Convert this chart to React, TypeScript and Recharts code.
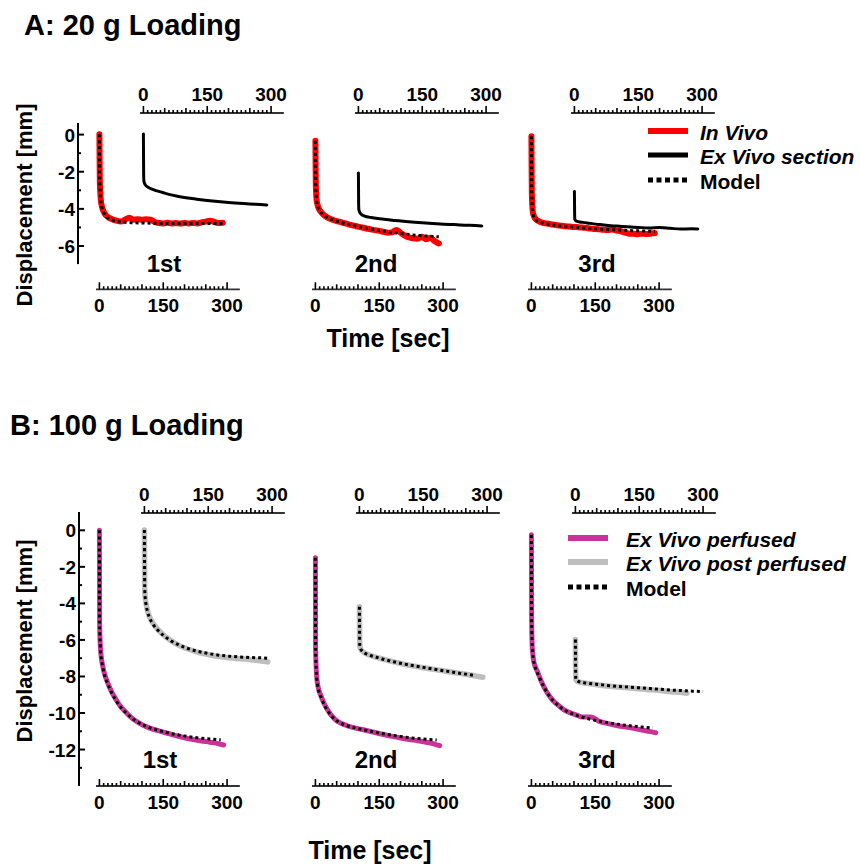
import React from 'react';
import { LineChart, Line, XAxis, YAxis } from 'recharts';

const FONT = "'Liberation Sans', Arial, Helvetica, sans-serif";

// ---------- DATA ----------
const X_TICKS = [0, 10, 20, 30, 40, 50, 60, 70, 80, 90, 100, 110, 120, 130, 140, 150, 160, 170, 180, 190, 200, 210, 220, 230, 240, 250, 260, 270, 280, 290, 300];
const X_LABELS = [0, 150, 300];
const Y_TICKS_A = [-6, -5, -4, -3, -2, -1, 0];
const Y_TICKS_B = [-13, -12, -11, -10, -9, -8, -7, -6, -5, -4, -3, -2, -1, 0];
const LOADINGS = ['1st', '2nd', '3rd'];

// Panel A (20 g) – in vivo, time on bottom axis
const T_VIVO = [0, 0.5, 1, 2, 3, 5, 8, 12, 17, 23, 30, 40, 50, 60, 70, 80, 90, 100, 110, 120, 130, 140, 150, 160, 170, 180, 190, 200, 210, 220, 230, 240, 250, 260, 270, 280, 290];
const A1_INVIVO = [0, -1.4, -2.5, -3.1, -3.45, -3.8, -4.05, -4.25, -4.4, -4.5, -4.58, -4.65, -4.7, -4.6, -4.5, -4.6, -4.57, -4.6, -4.57, -4.6, -4.72, -4.78, -4.8, -4.76, -4.8, -4.78, -4.81, -4.77, -4.8, -4.77, -4.8, -4.74, -4.7, -4.65, -4.72, -4.78, -4.76];
const A2_INVIVO = [-0.35, -1.6, -2.7, -3.3, -3.55, -3.8, -4.0, -4.15, -4.28, -4.4, -4.5, -4.6, -4.67, -4.73, -4.8, -4.86, -4.92, -4.97, -5.02, -5.07, -5.12, -5.16, -5.2, -5.25, -5.3, -5.28, -5.15, -5.3, -5.45, -5.55, -5.6, -5.62, -5.52, -5.65, -5.57, -5.75, -5.88];
const A3_INVIVO = [-0.1, -1.8, -3.1, -3.8, -4.1, -4.35, -4.5, -4.6, -4.68, -4.74, -4.78, -4.82, -4.86, -4.9, -4.92, -4.95, -4.97, -4.99, -5.0, -5.02, -5.05, -5.08, -5.1, -5.12, -5.14, -5.15, -5.13, -5.18, -5.22, -5.3, -5.35, -5.36, -5.38, -5.35, -5.37, -5.35, -5.32];

const T_MODEL_A = [0, 0.5, 1, 2, 3, 5, 8, 12, 17, 23, 30, 40, 50, 60, 75, 90, 110, 130, 150, 175, 200, 225, 250, 275, 290];
const A1_MODEL = [0, -1.5, -2.6, -3.2, -3.5, -3.85, -4.1, -4.3, -4.45, -4.55, -4.62, -4.68, -4.72, -4.74, -4.76, -4.77, -4.78, -4.79, -4.8, -4.8, -4.8, -4.8, -4.8, -4.8, -4.8];
const A2_MODEL = [-0.35, -1.7, -2.8, -3.35, -3.6, -3.85, -4.02, -4.17, -4.3, -4.41, -4.5, -4.6, -4.68, -4.75, -4.84, -4.92, -5.02, -5.1, -5.18, -5.27, -5.34, -5.41, -5.46, -5.5, -5.52];
const A3_MODEL = [-0.1, -1.9, -3.2, -3.9, -4.15, -4.4, -4.55, -4.64, -4.7, -4.75, -4.79, -4.84, -4.88, -4.91, -4.95, -4.98, -5.02, -5.06, -5.09, -5.12, -5.15, -5.18, -5.2, -5.22, -5.23];

// Panel A – ex vivo section, time on top axis
const T_EX = [0, 0.3, 0.6, 1, 2, 4, 7, 12, 20, 30, 45, 60, 80, 100, 125, 150, 175, 200, 225, 250, 275, 290];
const A1_EXVIVO = [0, -1.2, -2.2, -2.5, -2.62, -2.72, -2.8, -2.88, -2.97, -3.05, -3.15, -3.25, -3.35, -3.43, -3.51, -3.58, -3.64, -3.69, -3.73, -3.77, -3.8, -3.82];
const A2_EXVIVO = [-2.1, -3.0, -3.8, -4.05, -4.15, -4.25, -4.33, -4.4, -4.46, -4.5, -4.55, -4.59, -4.64, -4.69, -4.74, -4.78, -4.82, -4.86, -4.88, -4.91, -4.93, -4.95];
const A3_EXVIVO = [-3.1, -3.8, -4.4, -4.6, -4.64, -4.68, -4.71, -4.74, -4.76, -4.79, -4.84, -4.88, -4.93, -4.96, -5.0, -5.03, -5.06, -5.04, -5.08, -5.12, -5.1, -5.11];

// Panel B (100 g) – ex vivo perfused, bottom axis
const T_PERF = [0, 0.5, 1, 2, 3, 5, 8, 12, 17, 23, 30, 40, 50, 60, 75, 90, 105, 120, 140, 160, 180, 200, 220, 240, 260, 280, 292];
const B1_PERF = [0, -5.0, -5.6, -6.25, -6.6, -7.05, -7.45, -7.85, -8.2, -8.55, -8.9, -9.3, -9.65, -9.9, -10.25, -10.5, -10.7, -10.84, -10.98, -11.11, -11.24, -11.36, -11.45, -11.53, -11.6, -11.68, -11.75];
const B2_PERF = [-1.5, -6.5, -7.0, -7.6, -8.0, -8.4, -8.75, -9.0, -9.3, -9.6, -9.88, -10.2, -10.42, -10.56, -10.7, -10.8, -10.88, -10.96, -11.07, -11.18, -11.28, -11.37, -11.45, -11.52, -11.6, -11.7, -11.79];
const B3_PERF = [-0.25, -4.6, -5.6, -6.4, -6.7, -7.1, -7.4, -7.62, -7.9, -8.25, -8.6, -9.0, -9.3, -9.52, -9.8, -9.98, -10.1, -10.22, -10.22, -10.46, -10.58, -10.68, -10.76, -10.84, -10.93, -11.02, -11.08];

const T_PERF_MODEL = [0, 0.5, 1, 2, 3, 5, 8, 12, 17, 23, 30, 40, 50, 60, 75, 90, 105, 120, 140, 160, 180, 200, 220, 240, 260, 285];
const B1_PERF_MODEL = [0, -4.8, -5.6, -6.3, -6.7, -7.1, -7.5, -7.9, -8.25, -8.6, -8.95, -9.35, -9.68, -9.93, -10.25, -10.5, -10.68, -10.82, -10.96, -11.08, -11.18, -11.26, -11.33, -11.38, -11.42, -11.47];
const B2_PERF_MODEL = [-1.5, -6.3, -7.0, -7.65, -8.05, -8.45, -8.8, -9.05, -9.35, -9.65, -9.92, -10.22, -10.43, -10.56, -10.7, -10.8, -10.88, -10.95, -11.05, -11.14, -11.22, -11.29, -11.35, -11.4, -11.44, -11.48];
const B3_PERF_MODEL = [-0.25, -4.4, -5.5, -6.35, -6.7, -7.1, -7.42, -7.68, -7.95, -8.28, -8.6, -9.0, -9.3, -9.53, -9.8, -9.98, -10.12, -10.23, -10.35, -10.45, -10.54, -10.61, -10.67, -10.72, -10.77, -10.82];

// Panel B – ex vivo post perfused, top axis
const B1_POST = [0, -1.8, -3.0, -3.4, -3.7, -4.05, -4.4, -4.75, -5.1, -5.4, -5.75, -6.02, -6.3, -6.5, -6.68, -6.82, -6.93, -7.0, -7.05, -7.1, -7.17, -7.22];
const B1_POST_MODEL = [0, -1.6, -2.9, -3.4, -3.75, -4.1, -4.45, -4.8, -5.15, -5.45, -5.78, -6.03, -6.28, -6.47, -6.64, -6.76, -6.85, -6.91, -6.95, -6.98, -7.0, -7.02];
const B2_POST = [-4.2, -5.2, -6.0, -6.35, -6.45, -6.55, -6.64, -6.72, -6.82, -6.9, -7.0, -7.1, -7.22, -7.32, -7.44, -7.54, -7.63, -7.72, -7.81, -7.9, -8.0, -8.06];
const T_EX_268 = [0, 0.3, 0.6, 1, 2, 4, 7, 12, 20, 30, 45, 60, 80, 100, 125, 150, 175, 200, 225, 250, 268];
const B2_POST_MODEL = [-4.2, -5.3, -6.1, -6.38, -6.47, -6.56, -6.65, -6.73, -6.82, -6.9, -7.0, -7.1, -7.21, -7.31, -7.42, -7.52, -7.62, -7.71, -7.8, -7.89, -7.96];
const T_EX_262 = [0, 0.3, 0.6, 1, 2, 4, 7, 12, 20, 30, 45, 60, 80, 100, 125, 150, 175, 200, 225, 250, 262];
const B3_POST = [-6.0, -7.0, -7.8, -8.15, -8.22, -8.27, -8.31, -8.34, -8.37, -8.4, -8.45, -8.5, -8.55, -8.59, -8.64, -8.69, -8.74, -8.79, -8.85, -8.9, -8.93];
const T_EX_300 = [0, 0.3, 0.6, 1, 2, 4, 7, 12, 20, 30, 45, 60, 80, 100, 125, 150, 175, 200, 225, 250, 275, 300];
const B3_POST_MODEL = [-6.0, -7.1, -7.9, -8.15, -8.2, -8.25, -8.29, -8.33, -8.36, -8.39, -8.43, -8.47, -8.52, -8.56, -8.6, -8.64, -8.68, -8.72, -8.76, -8.79, -8.82, -8.84];

// ---------- STYLE / LAYOUT ----------
const RED = '#FF0000';
const BLACK = '#000000';
const MAGENTA = '#CC3399';
const GRAY = '#BEBEBE';
const TICK_FS = 19;

const zip = (t: number[], v: number[]) => t.map((tt, i) => ({ t: tt, v: v[i] }));

const XS = 0.4256; // px per second
const X_DOMAIN: [number, number] = [-8, 330];

type Fig = {
  zeroY: number; ppu: number; topAxisY: number; bottomAxisY: number;
  plotTop: number; plotBottom: number; yAxisTop: number; yAxisBottom: number; yTicks: number[];
};

const FIG_A: Fig = { zeroY: 134.3, ppu: 18.57, topAxisY: 113.3, bottomAxisY: 289.3, plotTop: 118, plotBottom: 272, yAxisTop: 122.7, yAxisBottom: 263.8, yTicks: Y_TICKS_A };
const FIG_B: Fig = { zeroY: 530.3, ppu: 18.27, topAxisY: 513.3, bottomAxisY: 786, plotTop: 506, plotBottom: 790, yAxisTop: 512, yAxisBottom: 786, yTicks: Y_TICKS_B };

const BOTTOM_ZEROS = [99, 315.5, 531];
const TOP_ZEROS_A = [143, 358, 574];
const TOP_ZEROS_B = [144, 359, 575];

type Series = { key: string; data: { t: number; v: number }[]; color: string; width: number; dash?: string };

const makeXTick = (side: 'top' | 'bottom') => (props: any) => {
  const { x, y, payload } = props;
  const v = payload.value as number;
  const len = v % 150 === 0 ? 7 : v % 50 === 0 ? 5 : 3;
  return (
    <g>
      <line x1={x} x2={x} y1={y} y2={y - len} stroke="#000" strokeWidth={1.6} />
      {X_LABELS.includes(v) && (
        <text x={x} y={side === 'top' ? y - 12 : y + 23} textAnchor="middle" fontSize={TICK_FS} fontWeight="bold" fontFamily={FONT} fill="#000">
          {v}
        </text>
      )}
    </g>
  );
};

const renderYTick = (props: any) => {
  const { x, y, payload } = props;
  const v = payload.value as number;
  const major = v % 2 === 0;
  return (
    <g>
      <line x1={x} x2={x + (major ? 6 : 3)} y1={y} y2={y} stroke="#000" strokeWidth={2} />
      {major && (
        <text x={x - 3} y={y + 7} textAnchor="end" fontSize={TICK_FS} fontWeight="bold" fontFamily={FONT} fill="#000">
          {v}
        </text>
      )}
    </g>
  );
};

function TimeChart({ fig, zeroX, side, series }: { fig: Fig; zeroX: number; side: 'top' | 'bottom'; series: Series[] }) {
  const PADX = 24, PADV = 6, AXH = 34;
  const plotLeft = zeroX + X_DOMAIN[0] * XS;
  const plotW = (X_DOMAIN[1] - X_DOMAIN[0]) * XS;
  const plotTop = side === 'bottom' ? fig.plotTop : fig.topAxisY;
  const plotBottom = side === 'bottom' ? fig.bottomAxisY : fig.plotBottom;
  const plotH = plotBottom - plotTop;
  const yDom: [number, number] = [(fig.zeroY - plotBottom) / fig.ppu, (fig.zeroY - plotTop) / fig.ppu];
  const width = plotW + 2 * PADX;
  const height = plotH + AXH + PADV;
  const top = side === 'bottom' ? plotTop - PADV : plotTop - AXH;
  const margin = side === 'bottom'
    ? { top: PADV, bottom: 0, left: PADX, right: PADX }
    : { top: 0, bottom: PADV, left: PADX, right: PADX };
  return (
    <div style={{ position: 'absolute', left: plotLeft - PADX, top, width, height }}>
      <LineChart width={width} height={height} margin={margin}>
        <XAxis
          type="number" dataKey="t" domain={X_DOMAIN} allowDataOverflow orientation={side} height={AXH}
          ticks={X_TICKS} interval={0} tickSize={0} tickMargin={0} tickLine={false}
          axisLine={{ stroke: '#333', strokeWidth: 1.8 }} tick={makeXTick(side)}
        />
        <YAxis type="number" domain={yDom} allowDataOverflow hide width={0} />
        {series.map((s) => (
          <Line
            key={s.key} data={s.data} dataKey="v" type="monotone" stroke={s.color} strokeWidth={s.width}
            strokeDasharray={s.dash} strokeLinecap={s.dash ? 'butt' : 'round'} strokeLinejoin="round"
            dot={false} activeDot={false} isAnimationActive={false}
          />
        ))}
      </LineChart>
    </div>
  );
}

function YAxisChart({ fig, axisX }: { fig: Fig; axisX: number }) {
  const AW = 50, PADV = 8;
  const plotH = fig.yAxisBottom - fig.yAxisTop;
  const yDom: [number, number] = [(fig.zeroY - fig.yAxisBottom) / fig.ppu, (fig.zeroY - fig.yAxisTop) / fig.ppu];
  const width = AW + 10;
  const height = plotH + 2 * PADV;
  return (
    <div style={{ position: 'absolute', left: axisX - AW, top: fig.yAxisTop - PADV, width, height }}>
      <LineChart width={width} height={height} margin={{ top: PADV, bottom: PADV, left: 0, right: 0 }} data={zip(T_VIVO, A1_INVIVO)}>
        <XAxis type="number" dataKey="t" hide domain={X_DOMAIN} />
        <YAxis
          type="number" domain={yDom} allowDataOverflow width={AW} ticks={fig.yTicks} interval={0}
          tickSize={0} tickMargin={0} tickLine={false} axisLine={{ stroke: '#000', strokeWidth: 2 }} tick={renderYTick}
        />
      </LineChart>
    </div>
  );
}

const mdl = (key: string, data: { t: number; v: number }[]): Series => ({ key, data, color: BLACK, width: 3, dash: '3 3' });

const A_BOTTOM: Series[][] = [
  [{ key: 'iv', data: zip(T_VIVO, A1_INVIVO), color: RED, width: 6 }, mdl('m', zip(T_MODEL_A, A1_MODEL))],
  [{ key: 'iv', data: zip(T_VIVO, A2_INVIVO), color: RED, width: 6 }, mdl('m', zip(T_MODEL_A, A2_MODEL))],
  [{ key: 'iv', data: zip(T_VIVO, A3_INVIVO), color: RED, width: 6 }, mdl('m', zip(T_MODEL_A, A3_MODEL))],
];
const A_TOP: Series[][] = [
  [{ key: 'ev', data: zip(T_EX, A1_EXVIVO), color: BLACK, width: 3 }],
  [{ key: 'ev', data: zip(T_EX, A2_EXVIVO), color: BLACK, width: 3 }],
  [{ key: 'ev', data: zip(T_EX, A3_EXVIVO), color: BLACK, width: 3 }],
];
const B_BOTTOM: Series[][] = [
  [{ key: 'p', data: zip(T_PERF, B1_PERF), color: MAGENTA, width: 5 }, mdl('m', zip(T_PERF_MODEL, B1_PERF_MODEL))],
  [{ key: 'p', data: zip(T_PERF, B2_PERF), color: MAGENTA, width: 5 }, mdl('m', zip(T_PERF_MODEL, B2_PERF_MODEL))],
  [{ key: 'p', data: zip(T_PERF, B3_PERF), color: MAGENTA, width: 5 }, mdl('m', zip(T_PERF_MODEL, B3_PERF_MODEL))],
];
const B_TOP: Series[][] = [
  [{ key: 'pp', data: zip(T_EX, B1_POST), color: GRAY, width: 5.5 }, mdl('m', zip(T_EX, B1_POST_MODEL))],
  [{ key: 'pp', data: zip(T_EX, B2_POST), color: GRAY, width: 5.5 }, mdl('m', zip(T_EX_268, B2_POST_MODEL))],
  [{ key: 'pp', data: zip(T_EX_262, B3_POST), color: GRAY, width: 5.5 }, mdl('m', zip(T_EX_300, B3_POST_MODEL))],
];

type LegendItem = { label: string; color: string; width: number; italic: boolean; dash?: string };
const LEGEND_A: LegendItem[] = [
  { label: 'In Vivo', color: RED, width: 6, italic: true },
  { label: 'Ex Vivo section', color: BLACK, width: 5, italic: true },
  { label: 'Model', color: BLACK, width: 5, italic: false, dash: '5 3.5' },
];
const LEGEND_B: LegendItem[] = [
  { label: 'Ex Vivo perfused', color: MAGENTA, width: 6, italic: true },
  { label: 'Ex Vivo post perfused', color: GRAY, width: 6, italic: true },
  { label: 'Model', color: BLACK, width: 5, italic: false, dash: '5 3.5' },
];

function LegendBlock({ items, x1, x2, tx, baselines }: { items: LegendItem[]; x1: number; x2: number; tx: number; baselines: number[] }) {
  return (
    <g>
      {items.map((it, i) => (
        <g key={it.label}>
          <line x1={x1} x2={x2} y1={baselines[i] - 9} y2={baselines[i] - 9} stroke={it.color} strokeWidth={it.width} strokeDasharray={it.dash} />
          <text x={tx} y={baselines[i]} fontSize={21} fontWeight="bold" fontStyle={it.italic ? 'italic' : 'normal'} fontFamily={FONT} fill="#000">
            {it.label}
          </text>
        </g>
      ))}
    </g>
  );
}

const LOAD_X_A = [164, 376, 597];
const LOAD_X_B = [160, 376, 597];

export default function App() {
  return (
    <div style={{ position: 'absolute', left: 0, top: 0, width: 860, height: 865, background: '#fff', overflow: 'hidden' }}>
      <svg width={860} height={865} style={{ position: 'absolute', left: 0, top: 0 }}>
        <text x={24} y={35} fontSize={29} fontWeight="bold" fontFamily={FONT}>A: 20 g Loading</text>
        <text x={10} y={435} fontSize={29} fontWeight="bold" fontFamily={FONT}>B: 100 g Loading</text>
        <text transform="translate(32,205) rotate(-90)" textAnchor="middle" fontSize={22} fontWeight="bold" fontFamily={FONT}>Displacement [mm]</text>
        <text transform="translate(32,641) rotate(-90)" textAnchor="middle" fontSize={22} fontWeight="bold" fontFamily={FONT}>Displacement [mm]</text>
        <text x={388} y={347} textAnchor="middle" fontSize={25} fontWeight="bold" fontFamily={FONT}>Time [sec]</text>
        <text x={370} y={859} textAnchor="middle" fontSize={25} fontWeight="bold" fontFamily={FONT}>Time [sec]</text>
        {LOADINGS.map((l, i) => (
          <text key={'a' + l} x={LOAD_X_A[i]} y={272} textAnchor="middle" fontSize={24} fontWeight="bold" fontFamily={FONT}>{l}</text>
        ))}
        {LOADINGS.map((l, i) => (
          <text key={'b' + l} x={LOAD_X_B[i]} y={768} textAnchor="middle" fontSize={24} fontWeight="bold" fontFamily={FONT}>{l}</text>
        ))}
        <LegendBlock items={LEGEND_A} x1={648} x2={688} tx={700} baselines={[140, 164, 189]} />
        <LegendBlock items={LEGEND_B} x1={568} x2={608} tx={626} baselines={[547, 571, 596]} />
      </svg>

      <YAxisChart fig={FIG_A} axisX={78} />
      <YAxisChart fig={FIG_B} axisX={79} />

      {A_BOTTOM.map((s, i) => <TimeChart key={'ab' + i} fig={FIG_A} zeroX={BOTTOM_ZEROS[i]} side="bottom" series={s} />)}
      {B_BOTTOM.map((s, i) => <TimeChart key={'bb' + i} fig={FIG_B} zeroX={BOTTOM_ZEROS[i]} side="bottom" series={s} />)}
      {A_TOP.map((s, i) => <TimeChart key={'at' + i} fig={FIG_A} zeroX={TOP_ZEROS_A[i]} side="top" series={s} />)}
      {B_TOP.map((s, i) => <TimeChart key={'bt' + i} fig={FIG_B} zeroX={TOP_ZEROS_B[i]} side="top" series={s} />)}
    </div>
  );
}
